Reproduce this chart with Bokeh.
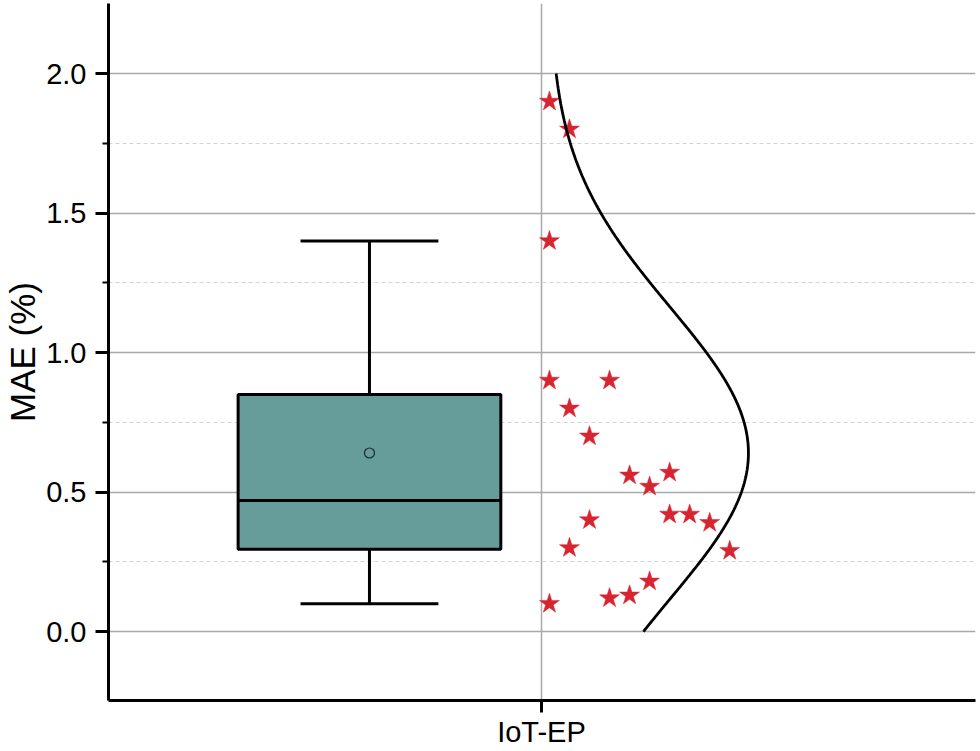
import numpy as np
from bokeh.plotting import figure
from bokeh.models import Range1d, FixedTicker, PrintfTickFormatter, ColumnDataSource
from bokeh.embed import file_html
from bokeh.resources import INLINE

# ---- data ----
category = "IoT-EP"
mae_values = [1.90, 1.80, 1.40, 0.90, 0.90, 0.80, 0.70, 0.56, 0.57, 0.52,
              0.42, 0.42, 0.39, 0.40, 0.30, 0.29, 0.10, 0.12, 0.13, 0.18]
# column (stacking slot) each point sits in, right of the category line
point_slot = [0, 1, 0, 0, 3, 1, 2, 4, 6, 5, 6, 7, 8, 2, 1, 9, 0, 3, 4, 5]
box_q1, box_median, box_q3 = 0.295, 0.47, 0.85
whisker_low, whisker_high = 0.10, 1.40
y_ticks = [0.0, 0.5, 1.0, 1.5, 2.0]
y_minor_ticks = [0.25, 0.75, 1.25, 1.75]

# ---- layout constants ----
cat_x = 1.0
box_offset = -0.1984
box_width = 0.303
cap_width = 0.159
slot_start = 0.0092
slot_step = 0.0231
curve_amp = 0.2295

FONT = "Liberation Sans"

p = figure(width=980, height=751, output_backend="svg", toolbar_location=None,
           x_range=Range1d(0.5006, 1.5006), y_range=Range1d(-0.247, 2.251),
           min_border_left=108, min_border_right=5, min_border_top=3,
           min_border_bottom=51)
p.outline_line_color = None
p.background_fill_color = "white"

# axes
p.yaxis.ticker = FixedTicker(ticks=y_ticks, minor_ticks=y_minor_ticks)
p.yaxis.formatter = PrintfTickFormatter(format="%.1f")
p.xaxis.ticker = FixedTicker(ticks=[cat_x])
p.xaxis.major_label_overrides = {cat_x: category}
p.xaxis.minor_tick_line_color = None
for ax in (p.xaxis, p.yaxis):
    ax.axis_line_width = 3
    ax.axis_line_color = "black"
    ax.major_tick_line_width = 3
    ax.major_tick_line_color = "black"
    ax.major_tick_in = 0
    ax.major_label_text_font = FONT
    ax.major_label_text_color = "black"
p.yaxis.major_tick_out = 13
p.yaxis.minor_tick_out = 6
p.yaxis.minor_tick_in = 0
p.yaxis.minor_tick_line_width = 2
p.yaxis.minor_tick_line_color = "black"
p.xaxis.major_tick_out = 12
p.yaxis.major_label_text_font_size = "29px"
p.xaxis.major_label_text_font_size = "29px"
p.yaxis.major_label_standoff = 9
p.xaxis.major_label_standoff = 3
p.yaxis.axis_label = "MAE (%)"
p.yaxis.axis_label_text_font = FONT
p.yaxis.axis_label_text_font_size = "35px"
p.yaxis.axis_label_text_font_style = "normal"
p.yaxis.axis_label_text_color = "black"
p.yaxis.axis_label_standoff = 1

# grids
p.ygrid.ticker = FixedTicker(ticks=y_ticks, minor_ticks=y_minor_ticks)
p.ygrid.grid_line_color = "#a9a9a9"
p.ygrid.grid_line_width = 1.5
p.ygrid.minor_grid_line_color = "#d2d2d2"
p.ygrid.minor_grid_line_dash = "4 3"
p.ygrid.minor_grid_line_width = 1
p.xgrid.ticker = FixedTicker(ticks=[cat_x])
p.xgrid.grid_line_color = "#a9a9a9"
p.xgrid.grid_line_width = 1.5

# box plot
bx = cat_x + box_offset
p.quad(left=[bx - box_width / 2], right=[bx + box_width / 2],
       bottom=[box_q1], top=[box_q3], fill_color="#669d9b",
       line_color="black", line_width=3)
p.segment(x0=[bx - box_width / 2], x1=[bx + box_width / 2],
          y0=[box_median], y1=[box_median], line_color="black", line_width=3)
p.segment(x0=[bx, bx], x1=[bx, bx], y0=[box_q3, box_q1],
          y1=[whisker_high, whisker_low], line_color="black", line_width=3)
p.segment(x0=[bx - cap_width / 2] * 2, x1=[bx + cap_width / 2] * 2,
          y0=[whisker_high, whisker_low], y1=[whisker_high, whisker_low],
          line_color="black", line_width=3)
mean_val = float(np.mean(mae_values))
p.scatter(x=[bx], y=[mean_val], marker="circle", size=10,
          fill_color=None, line_color="#1a2a2a", line_width=1.2)

# data points
src = ColumnDataSource(dict(
    x=[cat_x + slot_start + s * slot_step for s in point_slot],
    y=mae_values))
p.scatter(x="x", y="y", source=src, marker="star", size=21,
          fill_color="#d62530", line_color="#d62530", line_width=0.5)

# normal distribution curve from the data
sd = float(np.std(mae_values, ddof=1))
yy = np.linspace(0.0, 2.0, 300)
xx = cat_x + slot_start + curve_amp * np.exp(-(yy - mean_val) ** 2 / (2 * sd ** 2))
p.line(x=xx, y=yy, line_color="black", line_width=2.8)

open("out.html", "w").write(file_html(p, INLINE))
